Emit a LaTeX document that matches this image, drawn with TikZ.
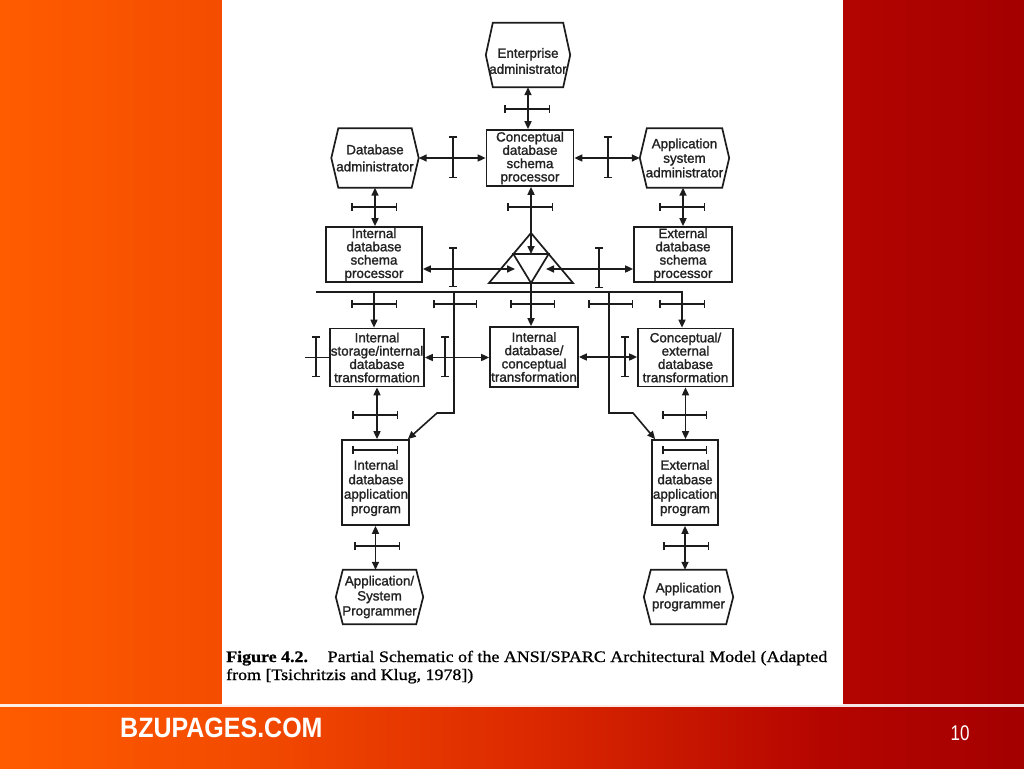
\documentclass[tikz,border=0pt]{standalone}
\usepackage{fontspec}
\setmainfont{Liberation Sans}
\newfontfamily\diagfont{Liberation Sans}[FakeBold=1.4]
\newfontfamily\capfont{Liberation Serif}[FakeBold=0.8]
\usetikzlibrary{arrows.meta,calc}
\pgfdeclarehorizontalshading{bgshade}{100bp}{rgb(0bp)=(1,0.36,0); rgb(25bp)=(1,0.36,0); rgb(37.5bp)=(0.95,0.29,0); rgb(50bp)=(0.87,0.17,0); rgb(65bp)=(0.71,0.02,0); rgb(75bp)=(0.64,0,0); rgb(100bp)=(0.64,0,0)}
\definecolor{ink}{HTML}{1C1C1C}
\definecolor{txt}{HTML}{222222}
\tikzset{
  boxtext/.style={inner sep=0pt, align=center, text=txt, font=\diagfont\fontsize{13.4}{13.3}\selectfont},
  box/.style={boxtext, draw=ink, line width=1.7pt},
  hexnode/.style={boxtext, draw=none},
  shapeline/.style={draw=ink, line width=1.7pt, line join=miter},
  link/.style={draw=ink, line width=1.6pt},
  twoway/.style={link, {Triangle[length=8pt,width=7pt]}-{Triangle[length=8pt,width=7pt]}},
  oneway/.style={link, -{Triangle[length=8pt,width=7pt]}},
  ibeam/.style={draw=ink, line width=1.5pt, {Bar[width=8pt]}-{Bar[width=8pt]}}
}
\newcommand{\hexof}[1]{\draw[shapeline] ([xshift=7pt]#1.north west) -- ([xshift=-7pt]#1.north east) -- (#1.east) -- ([xshift=-7pt]#1.south east) -- ([xshift=7pt]#1.south west) -- (#1.west) -- cycle;}
\begin{document}
\begin{tikzpicture}[x=1pt,y=-1pt]
\useasboundingbox (0,0) rectangle (1024,768);
% background
\fill[shading=bgshade] (0,0) rectangle (1024,768);
\fill[white] (222,0) rectangle (843,705);
\draw[white, opacity=0.9, line width=3pt] (0,705) -- (1024,705);

% nodes
\node[hexnode, minimum width=84pt, minimum height=64pt] (ent) at (528,55) {};
\hexof{ent}
\node[boxtext, font=\diagfont\fontsize{13.4}{16}\selectfont] (entt) at (528,61) {Enterprise\\administrator};
\node[hexnode, minimum width=87pt, minimum height=59pt, font=\diagfont\fontsize{13.4}{17}\selectfont] (dba) at (375,158) {Database\\administrator};
\hexof{dba}
\node[box, minimum width=87pt, minimum height=56pt] (csp) at (530,158) {Conceptual\\database\\schema\\processor};
\node[hexnode, minimum width=89pt, minimum height=59pt, font=\diagfont\fontsize{13.4}{14.5}\selectfont] (asa) at (684.5,158) {Application\\system\\administrator};
\hexof{asa}
\node[box, minimum width=96pt, minimum height=55pt] (idsp) at (374,254.5) {Internal\\database\\schema\\processor};
\node[box, minimum width=98pt, minimum height=55pt] (edsp) at (683,254.5) {External\\database\\schema\\processor};
\node[box, minimum width=94pt, minimum height=58pt] (ist) at (377,357.5) {Internal\\storage/internal\\database\\transformation};
\node[box, minimum width=88pt, minimum height=60pt] (idc) at (534,357) {Internal\\database/\\conceptual\\transformation};
\node[box, minimum width=95pt, minimum height=58pt] (cet) at (685.5,357.5) {Conceptual/\\external\\database\\transformation};
\node[box, minimum width=67pt, minimum height=85pt] (idap) at (375.5,482.5) {};
\node[boxtext, font=\diagfont\fontsize{13.4}{14.5}\selectfont] (idapt) at (376,488) {Internal\\database\\application\\program};
\node[box, minimum width=66pt, minimum height=85pt] (edap) at (685,482.5) {};
\node[boxtext, font=\diagfont\fontsize{13.4}{14.5}\selectfont] (edapt) at (685,488) {External\\database\\application\\program};
\node[hexnode, minimum width=87pt, minimum height=54pt, font=\diagfont\fontsize{13.4}{15}\selectfont] (asp) at (379.5,597) {Application/\\System\\Programmer};
\hexof{asp}
\node[hexnode, minimum width=89pt, minimum height=54pt, font=\diagfont\fontsize{13.4}{16}\selectfont] (ap) at (688.5,597) {Application\\programmer};
\hexof{ap}

% triangle
\coordinate (TA) at (531,233);
\coordinate (TL) at (489,283);
\coordinate (TR) at (573,283);
\coordinate (TB) at (531,283);
\draw[shapeline] (TA) -- (TL) -- (TR) -- cycle;
\draw[shapeline] ($(TA)!0.42!(TL)$) -- ($(TA)!0.42!(TR)$) -- (TB) -- cycle;
\coordinate (tt) at (531,254);
\coordinate (tl) at (515,269);
\coordinate (tr) at (546,269);

% top connectors
\draw[twoway] (ent.south) -- (ent.south |- csp.north);
\draw[ibeam] (504,109) -- (550,109);
\draw[twoway] (dba.east) -- (csp.west);
\draw[ibeam] (453,136) -- (453,178);
\draw[twoway] (csp.east) -- (asa.west);
\draw[ibeam] (608,136) -- (608,178);
\draw[twoway] (dba.south) -- (dba.south |- idsp.north);
\draw[ibeam] (351,207) -- (397,207);
\draw[twoway] (csp.south -| tt) -- (tt);
\draw[ibeam] (507,207) -- (553,207);
\draw[twoway] (edsp.north |- asa.south) -- (edsp.north);
\draw[ibeam] (659,207) -- (705,207);
\draw[twoway] (idsp.east |- tl) -- (tl);
\draw[ibeam] (453,247) -- (453,287);
\draw[twoway] (tr) -- (tr -| edsp.west);
\draw[ibeam] (599,247) -- (599,288);

% bus
\coordinate (busL) at (316,292);
\coordinate (busR) at (682,292);
\draw[oneway] (busL) -- (busR) -- (busR |- cet.north);
\draw[ibeam] (659,304) -- (705,304);
\coordinate (d1) at (374,292);
\draw[oneway] (d1) -- (d1 |- ist.north);
\draw[ibeam] (351,304) -- (397,304);
\coordinate (d2) at (454,292);
\coordinate (k2a) at (454,413);
\coordinate (k2b) at (437,413);
\draw[oneway] (d2) -- (k2a) -- (k2b) -- ([xshift=-2pt]idap.north east);
\draw[ibeam] (433,304) -- (477,304);
\draw[oneway] (TB) -- (TB |- idc.north);
\draw[ibeam] (510,304) -- (555,304);
\coordinate (d3) at (609,292);
\coordinate (k3a) at (609,413);
\coordinate (k3b) at (633,413);
\draw[oneway] (d3) -- (k3a) -- (k3b) -- ([xshift=4pt]edap.north west);
\draw[ibeam] (588,304) -- (633,304);

% middle row
\coordinate (lft) at (305,357.5);
\draw[link] (lft) -- (ist.west);
\draw[ibeam] (316,336) -- (316,377);
\draw[twoway] (ist.east) -- (ist.east -| idc.west);
\draw[ibeam] (445,336) -- (445,377);
\draw[twoway] (idc.east) -- (idc.east -| cet.west);
\draw[ibeam] (625,336) -- (625,377);

% lower
\draw[twoway] (ist.south) -- (ist.south |- idap.north);
\draw[ibeam] (352,415) -- (398,415);
\draw[twoway] (cet.south) -- (cet.south |- edap.north);
\draw[ibeam] (662,415) -- (707,415);
\draw[ibeam] (352,450) -- (398,450);
\draw[ibeam] (662,450) -- (707,450);
\draw[twoway] (idap.south) -- (idap.south |- asp.north);
\draw[ibeam] (354,546) -- (400,546);
\draw[twoway] (edap.south) -- (edap.south |- ap.north);
\draw[ibeam] (663,546) -- (709,546);

% caption
\node[anchor=base west, inner sep=0pt, text=black, font=\capfont\fontsize{16}{18}\selectfont] (cap1) at (226,662) {\scalebox{1.12}[1]{\textbf{Figure 4.2.}\hspace{1.1em}Partial Schematic of the ANSI/SPARC Architectural Model (Adapted}};
\node[anchor=base west, inner sep=0pt, text=black, font=\capfont\fontsize{16}{18}\selectfont] (cap2) at (226,680) {\scalebox{1.12}[1]{from [Tsichritzis and Klug, 1978])}};

% footer
\node[anchor=base west, inner sep=0pt, text=white, font=\bfseries\fontsize{25}{25}\selectfont] (foot) at (120,737) {\scalebox{1}[1.12]{BZUPAGES.COM}};
\node[anchor=base, inner sep=0pt, text=white, font=\fontsize{17}{17}\selectfont] (pg) at (960,740) {\scalebox{1}[1.25]{10}};
\end{tikzpicture}
\end{document}
